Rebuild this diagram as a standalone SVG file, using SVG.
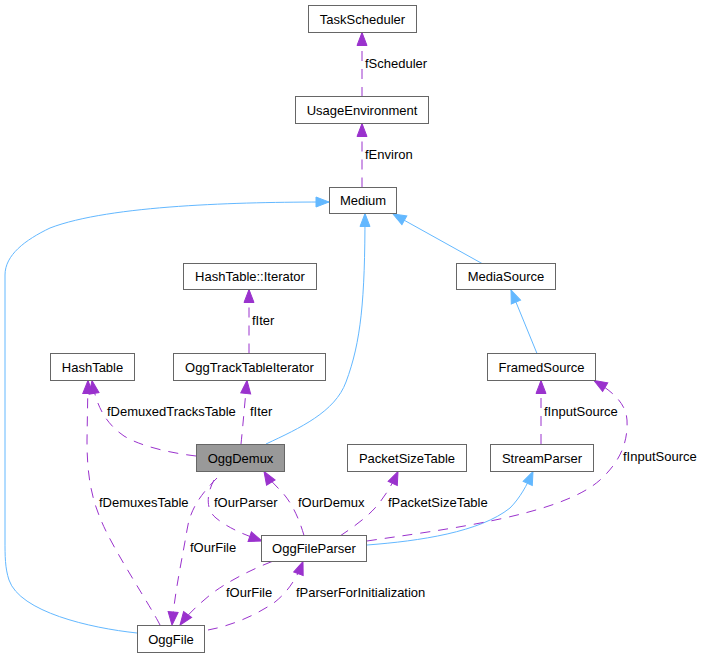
<svg xmlns="http://www.w3.org/2000/svg" width="704" height="657" viewBox="0 0 704 657">
<style>
.box{fill:#ffffff;stroke:#666666;stroke-width:1}
.sel{fill:#999999;stroke:#666666;stroke-width:1}
.nt{font-family:"Liberation Sans",Arial,sans-serif;font-size:13px;fill:#000000;text-anchor:middle}
.lb{font-family:"Liberation Sans",Arial,sans-serif;font-size:13px;fill:#000000}
.inh{fill:none;stroke:#63b8ff;stroke-width:1;marker-end:url(#ab)}
.use{fill:none;stroke:#9a32cd;stroke-width:1;stroke-dasharray:10,8;marker-end:url(#ap)}
</style>
<defs>
<marker id="ab" viewBox="-1 -1 16 12" markerWidth="16" markerHeight="12" refX="13" refY="5" orient="auto" markerUnits="userSpaceOnUse"><path d="M0,0 L13,5 L0,10 Z" fill="#63b8ff" stroke="#63b8ff"/></marker>
<marker id="ap" viewBox="-1 -1 16 12" markerWidth="16" markerHeight="12" refX="13" refY="5" orient="auto" markerUnits="userSpaceOnUse"><path d="M0,0 L13,5 L0,10 Z" fill="#9a32cd" stroke="#9a32cd"/></marker>
</defs>
<rect width="704" height="657" fill="#ffffff"/>
<g id="edges">
<path class="use" d="M362,97 L362,32.5"/>
<path class="use" d="M362,187.5 L362,123.5"/>
<path class="inh" d="M137,633 C90,628 20,612 9,580 C5,568 5,556 5,540 L5,275 C5,255 25,240 50,228 C110,205 240,202 329,202"/>
<path class="inh" d="M266,444 C300,428 335,412 346,382 C361,342 365,300 365,213.5"/>
<path class="inh" d="M482,263.5 L393,214"/>
<path class="inh" d="M537,353.5 L511,290"/>
<path class="inh" d="M367,545 C420,541 480,532 510,508 C520,498 527,485 533,471.5"/>
<path class="use" d="M249,353.5 L249,289.5"/>
<path class="use" d="M196,456 C170,453 140,446 124,436 C105,423 96,405 92,380.5"/>
<path class="use" d="M241,444 C243,425 245,400 247,380.5"/>
<path class="use" d="M160,625 C150,605 112,548 101,520 C90,495 87,470 87,440 L88,380.5"/>
<path class="use" d="M217,478 C200,495 190,510 187,530 C182,560 175,590 172,625"/>
<path class="use" d="M214,480 C206,495 206,510 216,518 C228,528 245,535 262,541"/>
<path class="use" d="M304,535.5 C298,515 290,500 280,490 C274,484 268,478 264,471.5"/>
<path class="use" d="M340,536 C352,528 366,518 375,508 C384,498 392,485 398,471.5"/>
<path class="use" d="M367,541 C440,530 560,516 600,480 C622,460 628,440 627,420 C626,402 610,390 594,380.5"/>
<path class="use" d="M541,444 L541,380.5"/>
<path class="use" d="M272,561.5 C250,570 225,583 210,595 C198,605 188,614 180,625"/>
<path class="use" d="M208,630 C230,626 255,616 275,602 C290,590 298,575 303,561.5"/>
</g>
<g id="TaskScheduler"><rect class="box" x="308.5" y="5.5" width="108" height="27"/><text class="nt" x="362.5" y="23.5">TaskScheduler</text></g>
<g id="UsageEnvironment"><rect class="box" x="295.5" y="96.5" width="133" height="27"/><text class="nt" x="362" y="114.5">UsageEnvironment</text></g>
<g id="Medium"><rect class="box" x="329.5" y="187.5" width="67" height="26"/><text class="nt" x="363" y="205">Medium</text></g>
<g id="HashTableIterator"><rect class="box" x="183.5" y="263.5" width="133" height="26"/><text class="nt" x="250" y="281">HashTable::Iterator</text></g>
<g id="MediaSource"><rect class="box" x="456.5" y="263.5" width="99" height="26"/><text class="nt" x="506" y="281">MediaSource</text></g>
<g id="HashTable"><rect class="box" x="50.5" y="353.5" width="84" height="27"/><text class="nt" x="92.5" y="371.5">HashTable</text></g>
<g id="OggTrackTableIterator"><rect class="box" x="173.5" y="353.5" width="152" height="27"/><text class="nt" x="249.5" y="371.5">OggTrackTableIterator</text></g>
<g id="FramedSource"><rect class="box" x="487.5" y="353.5" width="108" height="27"/><text class="nt" x="541.5" y="371.5">FramedSource</text></g>
<g id="OggDemux"><rect class="sel" x="196.5" y="444.5" width="88" height="27"/><text class="nt" x="240.5" y="462.5">OggDemux</text></g>
<g id="PacketSizeTable"><rect class="box" x="347.5" y="444.5" width="119" height="27"/><text class="nt" x="407" y="462.5">PacketSizeTable</text></g>
<g id="StreamParser"><rect class="box" x="490.5" y="444.5" width="103" height="27"/><text class="nt" x="542" y="462.5">StreamParser</text></g>
<g id="OggFileParser"><rect class="box" x="261.5" y="535.5" width="105" height="26"/><text class="nt" x="314" y="553">OggFileParser</text></g>
<g id="OggFile"><rect class="box" x="137.5" y="625.5" width="67" height="27"/><text class="nt" x="171" y="643.5">OggFile</text></g>
<g id="labels">
<text class="lb" x="365" y="68">fScheduler</text>
<text class="lb" x="365" y="159">fEnviron</text>
<text class="lb" x="252" y="325">fIter</text>
<text class="lb" x="107" y="416">fDemuxedTracksTable</text>
<text class="lb" x="250" y="416">fIter</text>
<text class="lb" x="544" y="416">fInputSource</text>
<text class="lb" x="623" y="461">fInputSource</text>
<text class="lb" x="99" y="507">fDemuxesTable</text>
<text class="lb" x="214" y="507">fOurParser</text>
<text class="lb" x="298" y="507">fOurDemux</text>
<text class="lb" x="388" y="507">fPacketSizeTable</text>
<text class="lb" x="190" y="552">fOurFile</text>
<text class="lb" x="226" y="597">fOurFile</text>
<text class="lb" x="296" y="597">fParserForInitialization</text>
</g>
</svg>
